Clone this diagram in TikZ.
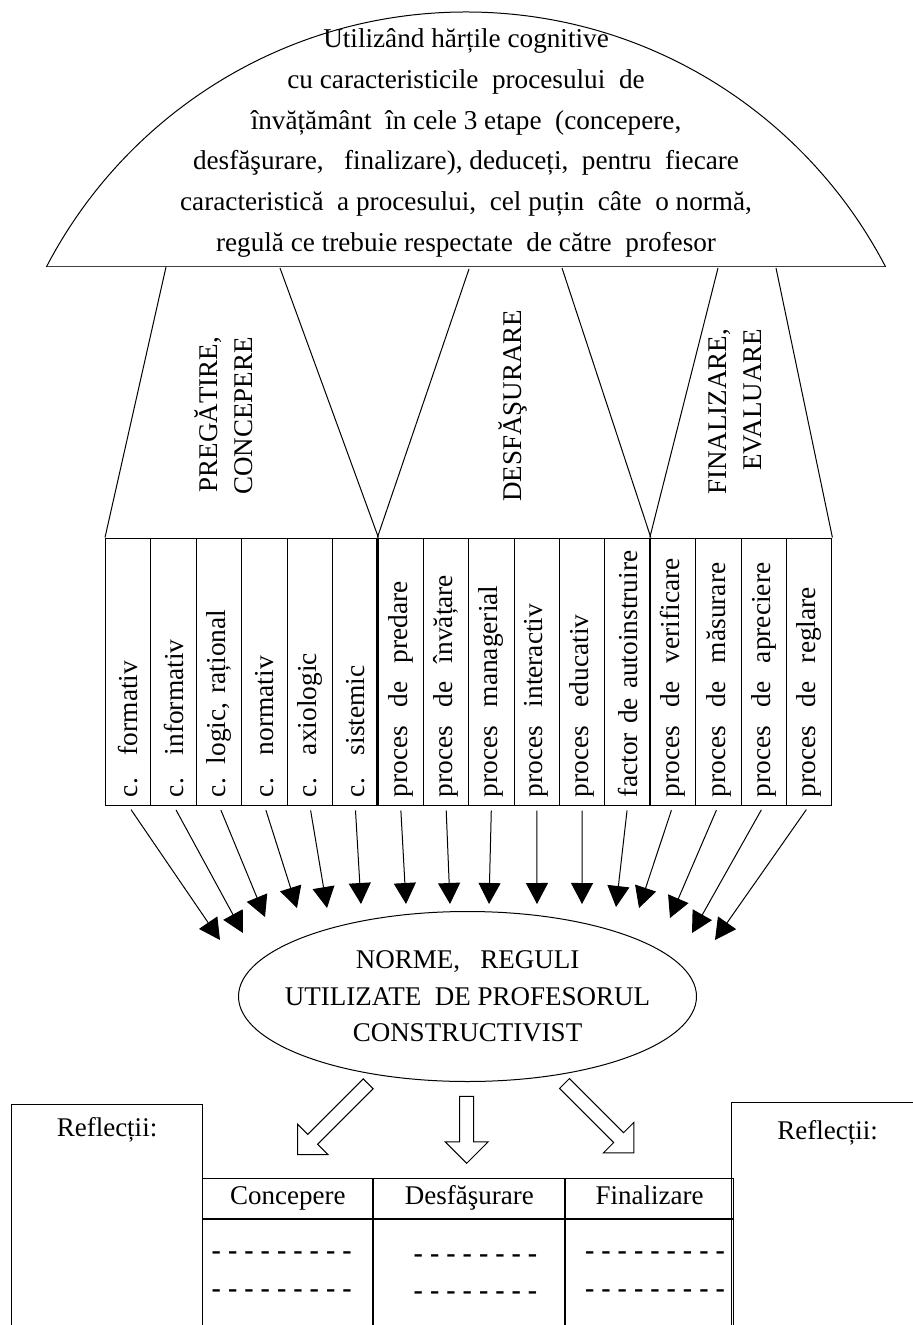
\documentclass[tikz,border=0pt]{standalone}
\usepackage{fontspec}
\setmainfont{Liberation Serif}
\usetikzlibrary{arrows.meta,positioning,shapes.geometric,shapes.arrows}

\begin{document}
\begin{tikzpicture}[x=0.5pt,y=-0.5pt,
  every node/.style={font=\fontsize{13.5}{18.3}\selectfont},
  colbox/.style={draw,line width=0.5pt,rotate=90,minimum width=133.5pt,minimum height=22.7pt,
                 inner xsep=4pt,inner ysep=0pt,text width=125.5pt,align=left,
                 font=\fontsize{13.7}{16}\selectfont},
  stage/.style={rotate=90,anchor=west,inner sep=0pt,align=right,
                font=\fontsize{13.5}{17.5}\selectfont},
  feed/.style={line width=0.5pt,-{Triangle[length=10.5pt,width=11pt]},shorten <=2.5pt},
  hollow/.style={draw,line width=0.5pt,single arrow,single arrow head extend=7.25pt,
                 minimum width=21pt,inner xsep=0pt,inner ysep=3.25pt,anchor=tip},
  cell/.style={draw,line width=0.5pt,anchor=north west,inner sep=0pt},
  hdtext/.style={text height=9.5pt,text depth=3pt},
  dashrow/.style={font=\fontsize{14}{16}\selectfont\bfseries,inner sep=0pt},
]
\useasboundingbox (0,0) rectangle (912,1325);

\begin{scope}
  \clip (0,0) rectangle (912,266.5);
  \draw[line width=0.5pt] (466,484.6) circle[radius=236.3pt];
\end{scope}
\draw[line width=0.8pt,black!75] (47,266.5) -- (885,266.5);
\node[align=center,font=\fontsize{13.6}{20.4}\selectfont] (task) at (466,143)
  {Utilizând hărțile cognitive\\
   cu caracteristicile~ procesului~ de\\
   învățământ~ în cele 3 etape~ (concepere,\\
   desfăşurare,~ ~finalizare), deduceți,~ pentru~ fiecare\\
   caracteristică~ a procesului,~ cel puțin~ câte~ o normă,\\
   regulă ce trebuie respectate~ de către~ profesor};

\foreach \i/\lab in {1/{c.~ formativ}, 2/{c.~ informativ}, 3/{c. logic, rațional},
                     4/{c.~ normativ}, 5/{c.~ axiologic}, 6/{c.~ sistemic},
                     7/{proces~ de~ predare}, 8/{proces~ de~ învățare}, 9/{proces~ managerial},
                     10/{proces~ interactiv}, 11/{proces~ educativ}, 12/{factor de autoinstruire},
                     13/{proces~ de~ verificare}, 14/{proces~ de~ măsurare},
                     15/{proces~ de~ apreciere}, 16/{proces~ de~ reglare}}
  \node[colbox] (c\i) at ({105.5+(\i-0.5)*45.4},671.5) {\lab};
\draw[line width=1.3pt] (c7.north east) -- (c7.north west);
\draw[line width=1.3pt] (c13.north east) -- (c13.north west);

\coordinate (b1) at (166,267);
\coordinate (b2) at (280,268);
\coordinate (b3) at (469,269);
\coordinate (b4) at (562,268);
\coordinate (b5) at (718,268);
\coordinate (b6) at (776,268);
\draw[line width=0.5pt] (b1) -- (c1.north east);
\draw[line width=0.5pt] (b2) -- (c6.south east);
\draw[line width=0.5pt] (b3) -- (c7.north east);
\draw[line width=0.5pt] (b4) -- (c12.south east);
\draw[line width=0.5pt] (b5) -- (c13.north east);
\draw[line width=0.5pt] (b6) -- (c16.south east);

\node[stage] (st1) at (224,495) {PREGĂTIRE,\\CONCEPERE};
\node[stage] (st2) at (513,502) {DESFĂŞURARE};
\node[stage] (st3) at (735,495) {FINALIZARE,\\EVALUARE};

\node[draw,line width=0.5pt,ellipse,minimum width=229pt,minimum height=85pt,inner sep=0pt]
  (norme) at (467.5,996.5) {};
\node[align=center] (normetxt) at (norme.center)
  {NORME,~ ~REGULI\\UTILIZATE~ DE PROFESORUL\\CONSTRUCTIVIST};

\foreach \i/\tx/\ty in {1/220/940, 2/243/933, 3/265/917, 4/297/908, 5/327/908, 6/361/904,
                        7/406/904, 8/450/904, 9/489/904, 10/537/904, 11/582/904, 12/616/907,
                        13/639/908, 14/670/918, 15/692/933, 16/715/940}
  {\coordinate (t\i) at (\tx,\ty);
   \draw[feed] (c\i.west) -- (t\i);}

\node[hollow,rotate=-135,minimum height=50pt] (ha1) at (297,1155) {};
\node[hollow,rotate=-90,minimum height=33.5pt] (ha2) at (466.7,1164) {};
\node[hollow,rotate=-45,minimum height=49pt] (ha3) at (634.3,1153.3) {};

\node[cell,minimum width=95.65pt,minimum height=150pt] (refl) at (11,1104) {};
\node[cell,minimum width=120pt,minimum height=150pt] (refr) at (731,1102.3) {};
\node[hdtext] (rl) at (107,1130) {Reflecții:};
\node[hdtext] (rr) at (827.5,1132.7) {Reflecții:};

\node[cell,minimum width=85pt,minimum height=20.1pt] (hd1) at (202.3,1177.5) {};
\node[cell,minimum width=95.5pt,minimum height=20.1pt,right=0pt of hd1] (hd2) {};
\node[cell,minimum width=83.85pt,minimum height=20.1pt,right=0pt of hd2] (hd3) {};
\node[cell,anchor=north,minimum width=85pt,minimum height=80pt,below=0pt of hd1] (bd1) {};
\node[cell,anchor=north,minimum width=95.5pt,minimum height=80pt,below=0pt of hd2] (bd2) {};
\node[cell,anchor=north,minimum width=83.85pt,minimum height=80pt,below=0pt of hd3] (bd3) {};
\node[hdtext] (lh1) at (hd1) {Concepere};
\node[hdtext] (lh2) at (hd2) {Desfăşurare};
\node[hdtext] (lh3) at (hd3) {Finalizare};

\node[dashrow] (dl1) at (281.7,1256) {- - - - - - - - -};
\node[dashrow] (dl2) at (281.7,1294) {- - - - - - - - -};
\node[dashrow] (dm1) at (475.5,1258.3) {- - - - - - - -};
\node[dashrow] (dm2) at (475.5,1295.7) {- - - - - - - -};
\node[dashrow] (dr1) at (655,1255.7) {- - - - - - - - -};
\node[dashrow] (dr2) at (655,1294) {- - - - - - - - -};
\end{tikzpicture}
\end{document}
